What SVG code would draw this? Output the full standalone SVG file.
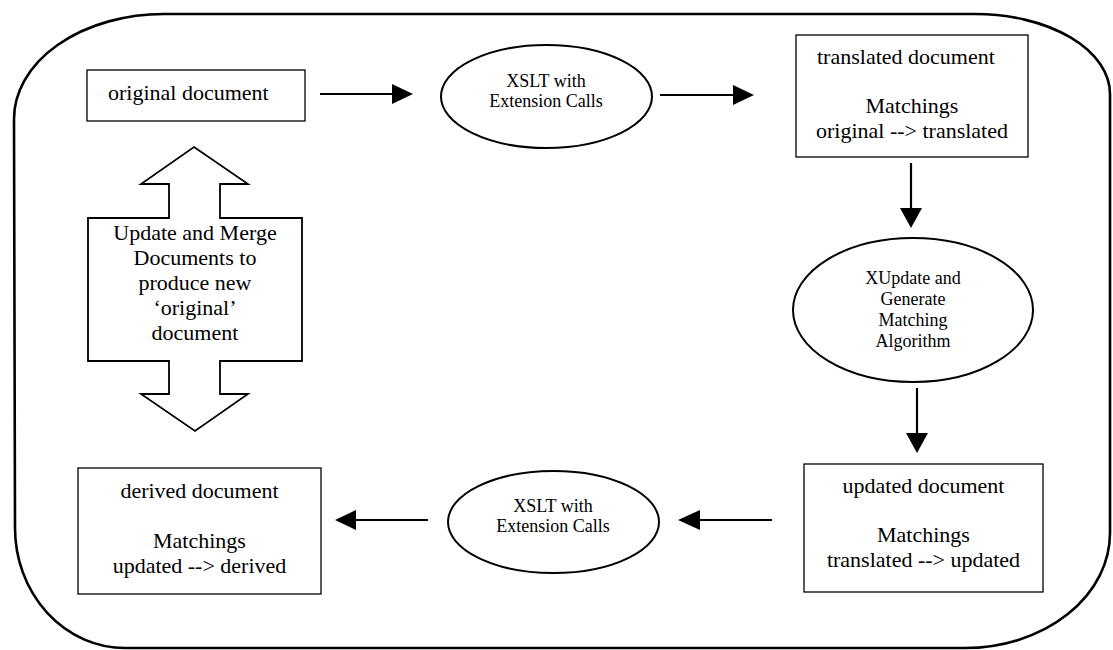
<svg xmlns="http://www.w3.org/2000/svg" width="1113" height="650" viewBox="0 0 1113 650">
<style>
.frame{fill:none;stroke:#000;stroke-width:2.6}
.box{fill:#fff;stroke:#000;stroke-width:1.3}
.ell{fill:#fff;stroke:#000;stroke-width:2}
.big{fill:#fff;stroke:#000;stroke-width:1.8}
.t{font-family:"Liberation Serif","Times New Roman",serif;font-size:22px;fill:#000}
.s{font-family:"Liberation Serif","Times New Roman",serif;font-size:18px;fill:#000;text-anchor:middle}
.c{text-anchor:middle}
.ln{stroke:#000;stroke-width:2.2;fill:none}
.hd{fill:#000;stroke:none}
</style>
<rect width="1113" height="650" fill="#fff"/>
<path class="frame" d="M164,14 L975,14 A135,80 0 0 1 1110,94 L1110,533 A145,115 0 0 1 965,648 L125,648 A110,120 0 0 1 15,528 L14,119 A150,105 0 0 1 164,14 Z"/>
<g id="original">
<rect class="box" x="87" y="70" width="218" height="51"/>
<text class="t" x="108" y="100">original document</text>
</g>
<g id="xslt1">
<ellipse class="ell" cx="546.5" cy="96.5" rx="105.5" ry="51.5"/>
<text class="s" x="546" y="87">XSLT with</text>
<text class="s" x="546" y="107">Extension Calls</text>
</g>
<g id="translated">
<rect class="box" x="796" y="35" width="232" height="122"/>
<text class="t" x="817" y="64">translated document</text>
<text class="t c" x="912" y="113">Matchings</text>
<text class="t c" x="912" y="138">original --&gt; translated</text>
</g>
<g id="xupdate">
<ellipse class="ell" cx="913" cy="310" rx="120" ry="72"/>
<text class="s" x="913" y="284">XUpdate and</text>
<text class="s" x="913" y="305">Generate</text>
<text class="s" x="913" y="326">Matching</text>
<text class="s" x="913" y="347">Algorithm</text>
</g>
<g id="updated">
<rect class="box" x="804" y="464" width="239" height="128"/>
<text class="t c" x="923.5" y="493">updated document</text>
<text class="t c" x="923.5" y="542">Matchings</text>
<text class="t c" x="923.5" y="567">translated --&gt; updated</text>
</g>
<g id="xslt2">
<ellipse class="ell" cx="553.5" cy="522" rx="105.5" ry="51"/>
<text class="s" x="553" y="512">XSLT with</text>
<text class="s" x="553" y="532">Extension Calls</text>
</g>
<g id="derived">
<rect class="box" x="78" y="468" width="243" height="126"/>
<text class="t c" x="199.5" y="498">derived document</text>
<text class="t c" x="199.5" y="548">Matchings</text>
<text class="t c" x="199.5" y="573">updated --&gt; derived</text>
</g>
<g id="merge">
<polygon class="big" points="194,147 248,184 220,184 220,218 302,218 302,361 220,361 220,394 248,394 195,431 141,394 169,394 169,361 88,361 88,218 169,218 169,184 141,184"/>
<text class="t c" x="195" y="240">Update and Merge</text>
<text class="t c" x="195" y="265">Documents to</text>
<text class="t c" x="195" y="290">produce new</text>
<text class="t c" x="195" y="315">‘original’</text>
<text class="t c" x="195" y="340">document</text>
</g>
<g id="connectors">
<line class="ln" x1="320" y1="94" x2="393" y2="94"/>
<polygon class="hd" points="392,84 413,94 392,104"/>
<line class="ln" x1="660" y1="95" x2="734" y2="95"/>
<polygon class="hd" points="733,85 754,95 733,105"/>
<line class="ln" x1="911" y1="163" x2="911" y2="209"/>
<polygon class="hd" points="900,208 922,208 911,228"/>
<line class="ln" x1="917" y1="388" x2="917" y2="434"/>
<polygon class="hd" points="906,433 928,433 917,453"/>
<line class="ln" x1="772" y1="520" x2="699" y2="520"/>
<polygon class="hd" points="700,510 678,520 700,530"/>
<line class="ln" x1="428" y1="520" x2="355" y2="520"/>
<polygon class="hd" points="356,510 335,520 356,530"/>
</g>
</svg>
